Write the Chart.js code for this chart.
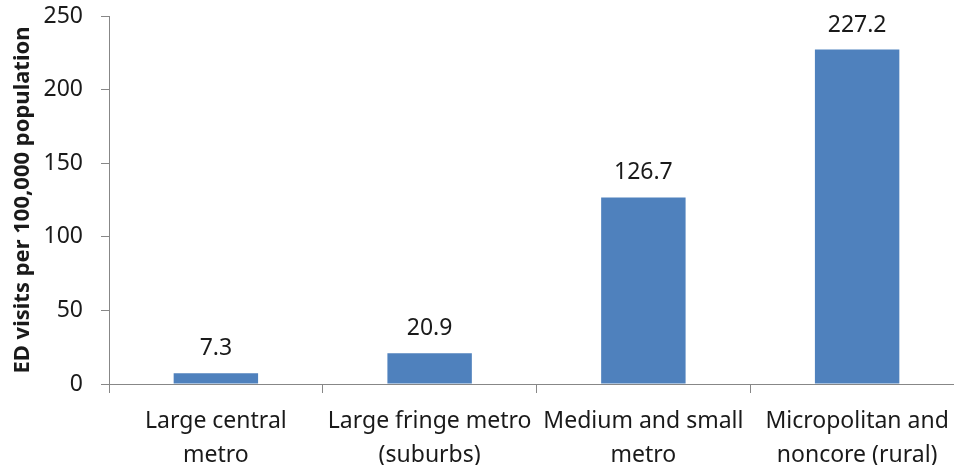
<!DOCTYPE html>
<html>
<head>
<meta charset="utf-8">
<script src="https://cdn.jsdelivr.net/npm/chart.js@4/dist/chart.umd.min.js"></script>
<style>
html,body{margin:0;padding:0;background:#fff;overflow:hidden;}
#wrap{width:964px;height:465px;}
</style>
</head>
<body>
<div id="wrap"><canvas id="c" width="964" height="465"></canvas></div>
<script>
const categories = [
  ["Large central", "metro"],
  ["Large fringe metro", "(suburbs)"],
  ["Medium and small", "metro"],
  ["Micropolitan and", "noncore (rural)"]
];
const values = [7.3, 20.9, 126.7, 227.2];
const valueLabels = ["7.3", "20.9", "126.7", "227.2"];
const yTitle = "ED visits per 100,000 population";
const yMin = 0, yMax = 250, yStep = 50;

const FONT = "'Noto Sans', 'Open Sans', sans-serif";
const TEXT = '#1a1a1a';
const AXIS = '#878787';

const labelPlugin = {
  id: 'valueLabels',
  afterDatasetsDraw(chart) {
    const ctx = chart.ctx;
    const meta = chart.getDatasetMeta(0);
    ctx.save();
    ctx.font = '23px ' + FONT;
    ctx.fillStyle = TEXT;
    ctx.textAlign = 'center';
    ctx.textBaseline = 'alphabetic';
    meta.data.forEach((bar, i) => {
      ctx.fillText(valueLabels[i], bar.x, bar.y - 18);
    });
    ctx.restore();
  }
};

new Chart(document.getElementById('c'), {
  type: 'bar',
  data: {
    labels: categories,
    datasets: [{
      data: values,
      backgroundColor: '#4F81BD',
      borderWidth: 0,
      categoryPercentage: 1,
      barPercentage: 0.395
    }]
  },
  options: {
    responsive: false,
    animation: false,
    devicePixelRatio: 1,
    layout: { padding: { top: 16, right: 0, left: 0, bottom: 0 } },
    plugins: { legend: { display: false }, tooltip: { enabled: false } },
    scales: {
      x: {
        grid: { display: true, drawOnChartArea: false, drawTicks: true, tickLength: 9, color: AXIS, offset: true },
        border: { display: true, color: AXIS, width: 1 },
        ticks: { color: TEXT, font: { family: FONT, size: 23, lineHeight: 1.48 }, padding: 11, maxRotation: 0, autoSkip: false },
        afterFit(scale) { scale.height = 81; scale.paddingLeft = 0; scale.paddingRight = 0; }
      },
      y: {
        min: yMin, max: yMax,
        grid: { display: true, drawOnChartArea: false, drawTicks: true, tickLength: 8, color: AXIS },
        border: { display: true, color: AXIS, width: 1 },
        ticks: { stepSize: yStep, color: TEXT, font: { family: FONT, size: 23 }, padding: 18 },
        title: { display: true, text: yTitle, color: TEXT, font: { family: FONT, size: 22, weight: 'bold' }, padding: { top: 10, bottom: 0 } },
        afterFit(scale) { scale.width = 109; scale.paddingTop = 0; scale.paddingBottom = 0; }
      }
    }
  },
  plugins: [labelPlugin]
});
</script>
</body>
</html>
